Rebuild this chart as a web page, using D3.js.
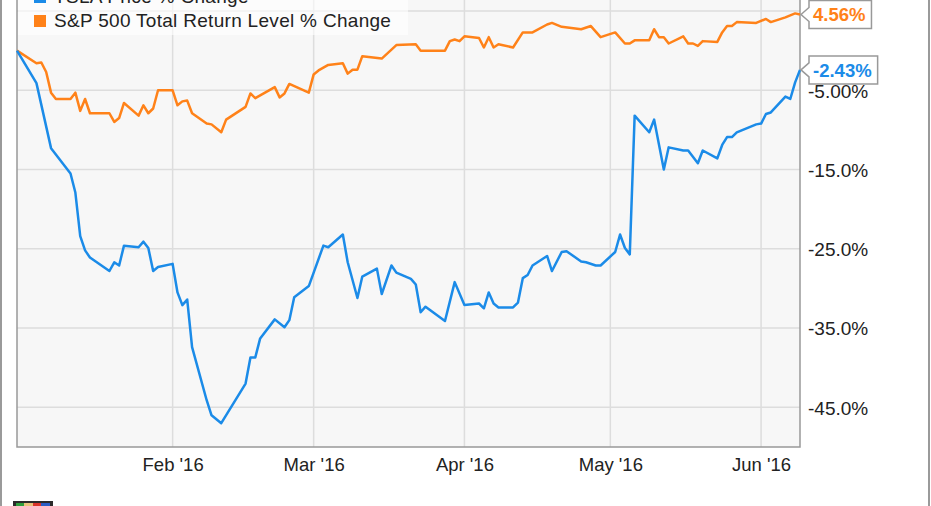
<!DOCTYPE html>
<html>
<head>
<meta charset="utf-8">
<script src="https://cdn.jsdelivr.net/npm/d3@7"></script>
<style>
  html, body { margin: 0; padding: 0; background: #ffffff; }
  svg { display: block; font-family: "Liberation Sans", Arial, sans-serif; }
</style>
</head>
<body>
<div id="chart"></div>
<script>
// series (% change since 2015-12-31)
var stockLabel = "TSLA Price % Change";
var spxLabel = "S&P 500 Total Return Level % Change";

var stockSeries = [
  ["2015-12-31",0],["2016-01-04",-4.1],["2016-01-07",-12.3],["2016-01-11",-15.5],["2016-01-12",-17.9],
  ["2016-01-13",-23.4],["2016-01-14",-25.2],["2016-01-15",-26.1],["2016-01-19",-27.8],["2016-01-20",-26.7],
  ["2016-01-21",-27.1],["2016-01-22",-24.6],["2016-01-25",-24.8],["2016-01-26",-24.1],["2016-01-27",-24.9],
  ["2016-01-28",-27.8],["2016-01-29",-27.3],["2016-02-01",-26.9],["2016-02-02",-30.5],["2016-02-03",-32.1],
  ["2016-02-04",-31.4],["2016-02-05",-37.4],["2016-02-08",-44.1],["2016-02-09",-46.0],["2016-02-11",-47.0],
  ["2016-02-16",-42.0],["2016-02-17",-38.7],["2016-02-18",-38.7],["2016-02-19",-36.3],["2016-02-22",-33.9],
  ["2016-02-24",-34.9],["2016-02-25",-34.0],["2016-02-26",-31.1],["2016-02-29",-29.7],["2016-03-03",-24.6],
  ["2016-03-04",-24.8],["2016-03-07",-23.2],["2016-03-08",-26.7],["2016-03-10",-31.2],["2016-03-11",-28.5],
  ["2016-03-14",-27.5],["2016-03-15",-30.7],["2016-03-17",-27.1],["2016-03-18",-28.0],["2016-03-21",-28.8],
  ["2016-03-22",-29.5],["2016-03-23",-33.0],["2016-03-24",-32.3],["2016-03-28",-34.1],["2016-03-30",-29.2],
  ["2016-04-01",-32.1],["2016-04-04",-31.9],["2016-04-05",-32.5],["2016-04-06",-30.5],["2016-04-07",-31.9],
  ["2016-04-08",-32.4],["2016-04-11",-32.4],["2016-04-12",-31.8],["2016-04-13",-28.7],["2016-04-14",-28.3],
  ["2016-04-15",-27.1],["2016-04-18",-25.9],["2016-04-19",-27.8],["2016-04-21",-25.4],["2016-04-22",-25.3],
  ["2016-04-25",-26.6],["2016-04-26",-26.7],["2016-04-28",-27.1],["2016-04-29",-27.1],["2016-05-02",-25.4],
  ["2016-05-03",-23.2],["2016-05-04",-24.9],["2016-05-05",-25.7],["2016-05-06",-8.2],["2016-05-09",-10.3],
  ["2016-05-10",-8.7],["2016-05-12",-15.0],["2016-05-13",-12.2],["2016-05-16",-12.6],["2016-05-17",-12.6],
  ["2016-05-19",-14.2],["2016-05-20",-12.6],["2016-05-23",-13.6],["2016-05-24",-11.9],["2016-05-25",-10.9],
  ["2016-05-26",-10.9],["2016-05-27",-10.3],["2016-05-31",-9.3],["2016-06-01",-9.2],["2016-06-02",-8.0],
  ["2016-06-03",-7.8],["2016-06-06",-5.8],["2016-06-07",-6.1],["2016-06-08",-4.0],["2016-06-09",-2.43]
];

var spxSeries = [
  ["2015-12-31",0],["2016-01-04",-1.6],["2016-01-05",-1.5],["2016-01-06",-2.7],["2016-01-07",-5.3],
  ["2016-01-08",-6.1],["2016-01-11",-6.1],["2016-01-12",-5.3],["2016-01-13",-7.6],["2016-01-14",-6.1],
  ["2016-01-15",-7.9],["2016-01-19",-7.9],["2016-01-20",-9.0],["2016-01-21",-8.5],["2016-01-22",-6.6],
  ["2016-01-25",-8.2],["2016-01-26",-6.9],["2016-01-27",-7.9],["2016-01-28",-7.3],["2016-01-29",-5.0],
  ["2016-02-01",-5.0],["2016-02-02",-6.9],["2016-02-03",-6.4],["2016-02-04",-6.3],["2016-02-05",-7.9],
  ["2016-02-08",-9.2],["2016-02-09",-9.3],["2016-02-11",-10.3],["2016-02-12",-8.7],["2016-02-16",-7.1],
  ["2016-02-17",-5.4],["2016-02-18",-6.0],["2016-02-22",-4.6],["2016-02-23",-5.9],["2016-02-24",-5.4],
  ["2016-02-25",-4.2],["2016-02-29",-5.3],["2016-03-01",-3.0],["2016-03-02",-2.5],["2016-03-04",-1.8],
  ["2016-03-07",-1.6],["2016-03-08",-2.9],["2016-03-09",-2.4],["2016-03-10",-2.4],["2016-03-11",-0.7],
  ["2016-03-15",-1.0],["2016-03-18",0.7],["2016-03-22",0.8],["2016-03-23",0.0],["2016-03-28",0.0],
  ["2016-03-29",1.2],["2016-03-30",1.4],["2016-03-31",1.2],["2016-04-01",1.8],["2016-04-04",1.6],
  ["2016-04-05",0.4],["2016-04-06",1.7],["2016-04-07",0.4],["2016-04-08",0.8],["2016-04-11",0.4],
  ["2016-04-13",2.3],["2016-04-15",2.3],["2016-04-18",3.3],["2016-04-19",3.5],["2016-04-21",3.0],
  ["2016-04-25",2.7],["2016-04-27",3.1],["2016-04-29",1.7],["2016-05-02",2.3],["2016-05-04",0.9],
  ["2016-05-05",0.9],["2016-05-06",1.3],["2016-05-09",1.3],["2016-05-10",2.7],["2016-05-11",1.7],
  ["2016-05-12",1.7],["2016-05-13",0.9],["2016-05-16",1.8],["2016-05-17",0.9],["2016-05-18",0.9],
  ["2016-05-19",0.6],["2016-05-20",1.2],["2016-05-23",1.1],["2016-05-24",2.3],["2016-05-25",3.1],
  ["2016-05-26",3.1],["2016-05-27",3.6],["2016-05-31",3.5],["2016-06-02",4.0],["2016-06-03",3.6],
  ["2016-06-06",4.2],["2016-06-08",4.7],["2016-06-09",4.56]
];

// 5% label sits under the 4.56% flag in the original, so it is left blank
var yTicks = [5, -5, -15, -25, -35, -45];
var yTickLabels = ["", "-5.00%", "-15.0%", "-25.0%", "-35.0%", "-45.0%"];
var xTicks = ["2016-02-01", "2016-03-01", "2016-04-01", "2016-05-01", "2016-06-01"];
var endLabels = ["-2.43%", "4.56%"];

var width = 931,
    height = 506,
    plotLeft = 17,
    plotRight = 800,
    plotTop = -40,
    plotBottom = 447,
    blue = "#1b8be8",
    orange = "#ff8219";

var parse = d3.timeParse("%Y-%m-%d");

var x = d3.scaleTime()
    .domain([parse("2015-12-31"), parse("2016-06-09")])
    .range([plotLeft, plotRight]);

var y = d3.scaleLinear()
    .domain([-50, 5])
    .range([plotBottom, 11]);

var svg = d3.select("#chart").append("svg")
    .attr("width", width)
    .attr("height", height);

// outer frame
svg.append("rect")
    .attr("x", 1).attr("y", -20)
    .attr("width", width - 3).attr("height", height + 40)
    .attr("fill", "#ffffff")
    .attr("stroke", "#9a9a9a")
    .attr("stroke-width", 2);

// plot background
svg.append("rect")
    .attr("x", plotLeft).attr("y", plotTop)
    .attr("width", plotRight - plotLeft).attr("height", plotBottom - plotTop)
    .attr("fill", "#f7f7f7");

// grid
svg.append("g").selectAll("line")
    .data(yTicks)
    .enter().append("line")
    .attr("x1", plotLeft).attr("x2", plotRight)
    .attr("y1", function(d) { return y(d); })
    .attr("y2", function(d) { return y(d); })
    .attr("stroke", "#dddddd")
    .attr("stroke-width", 1.5);

svg.append("g").selectAll("line")
    .data(xTicks)
    .enter().append("line")
    .attr("x1", function(d) { return x(parse(d)); })
    .attr("x2", function(d) { return x(parse(d)); })
    .attr("y1", plotTop).attr("y2", plotBottom)
    .attr("stroke", "#dddddd")
    .attr("stroke-width", 1.5);

// plot frame
svg.append("path")
    .attr("d", "M" + plotLeft + "," + plotTop + "V" + plotBottom + "H" + plotRight + "V" + plotTop)
    .attr("fill", "none")
    .attr("stroke", "#999999")
    .attr("stroke-width", 1.5);

// x axis labels
var xAxis = d3.axisBottom(x)
    .tickValues(xTicks.map(parse))
    .tickSize(0)
    .tickPadding(10)
    .tickFormat(d3.timeFormat("%b '%y"));

svg.append("g")
    .attr("transform", "translate(0," + plotBottom + ")")
    .call(xAxis)
    .call(function(g) { g.select(".domain").remove(); })
    .selectAll("text")
    .attr("dy", null)
    .attr("y", 23.5)
    .attr("fill", "#222222")
    .style("font-size", "18.5px");

// y axis labels on the right
var yAxis = d3.axisRight(y)
    .tickValues(yTicks)
    .tickSize(0)
    .tickPadding(8)
    .tickFormat(function(d, i) { return yTickLabels[i]; });

svg.append("g")
    .attr("transform", "translate(" + plotRight + ",0)")
    .call(yAxis)
    .call(function(g) { g.select(".domain").remove(); })
    .selectAll("text")
    .attr("dy", "0.36em")
    .attr("fill", "#222222")
    .style("font-size", "19px");

// lines
var line = d3.line()
    .x(function(d) { return x(parse(d[0])); })
    .y(function(d) { return y(d[1]); });

svg.append("path")
    .datum(spxSeries)
    .attr("d", line)
    .attr("fill", "none")
    .attr("stroke", orange)
    .attr("stroke-width", 2.5)
    .attr("stroke-linejoin", "round");

svg.append("path")
    .datum(stockSeries)
    .attr("d", line)
    .attr("fill", "none")
    .attr("stroke", blue)
    .attr("stroke-width", 2.5)
    .attr("stroke-linejoin", "round");

// legend
var legend = svg.append("g");

legend.append("rect")
    .attr("x", plotLeft + 1).attr("y", -30)
    .attr("width", 390).attr("height", 65)
    .attr("fill", "#ffffff")
    .attr("fill-opacity", 0.6);

var legendItems = legend.selectAll(".legend")
    .data([[stockLabel, blue], [spxLabel, orange]])
    .enter().append("g")
    .attr("class", "legend")
    .attr("transform", function(d, i) { return "translate(0," + (i * 24) + ")"; });

legendItems.append("rect")
    .attr("x", 34).attr("y", -9)
    .attr("width", 12).attr("height", 12)
    .attr("fill", function(d) { return d[1]; });

legendItems.append("text")
    .attr("x", 54).attr("y", 3)
    .attr("fill", "#222222")
    .style("font-size", "19px")
    .style("letter-spacing", "0.3px")
    .text(function(d) { return d[0]; });

// end-value flags
var flags = [
  { value: stockSeries[stockSeries.length - 1][1], text: endLabels[0], color: blue },
  { value: spxSeries[spxSeries.length - 1][1], text: endLabels[1], color: orange }
];

flags.forEach(function(f) {
  var cy = y(f.value),
      g = svg.append("g");
  var path = g.append("path");
  var t = g.append("text")
      .attr("x", plotRight + 13)
      .attr("y", cy)
      .attr("dy", "0.36em")
      .attr("fill", f.color)
      .style("font-size", "18.5px")
      .style("font-weight", "bold")
      .text(f.text);
  var w = t.node().getComputedTextLength(),
      x0 = plotRight + 9,
      x1 = x0 + w + 10,
      h = 14;
  path.attr("d", "M" + (plotRight + 1) + "," + cy +
        "L" + x0 + "," + (cy - 7) + "V" + (cy - h) + "H" + x1 +
        "V" + (cy + h) + "H" + x0 + "V" + (cy + 7) + "Z")
      .attr("fill", "#ffffff")
      .attr("stroke", "#999999")
      .attr("stroke-width", 1.5);
});

// little logo at bottom left
var logo = svg.append("g").attr("transform", "translate(13,501)");
logo.append("rect").attr("width", 40).attr("height", 10).attr("fill", "#2b2b2b");
logo.append("rect").attr("x", 3).attr("y", 2).attr("width", 8).attr("height", 8).attr("fill", "#2e9e3c");
logo.append("rect").attr("x", 11).attr("y", 2).attr("width", 9).attr("height", 8).attr("fill", "#e8c27a");
logo.append("rect").attr("x", 20).attr("y", 2).attr("width", 8).attr("height", 8).attr("fill", "#d9342b");
logo.append("rect").attr("x", 28).attr("y", 2).attr("width", 9).attr("height", 8).attr("fill", "#2a5cc4");
</script>
</body>
</html>
